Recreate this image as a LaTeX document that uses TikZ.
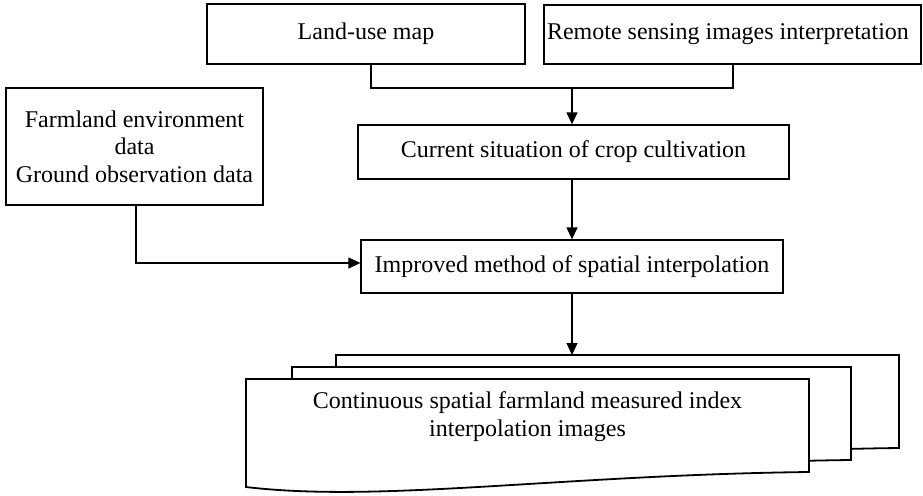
\documentclass[tikz,border=0pt]{standalone}
\usepackage{fontspec}
\setmainfont{Liberation Serif}
\usetikzlibrary{arrows.meta}
\begin{document}
\begin{tikzpicture}[x=1pt,y=-1pt,
  txt/.style={inner sep=0pt,align=center,font=\fontsize{24}{27.6}\selectfont},
  box/.style={txt,draw,line width=1.3pt},
  conn/.style={line width=1.3pt},
  arr/.style={conn,-{Triangle[length=12pt,width=11pt]}},
  doc/.style={draw,line width=1.8pt,fill=white,line join=miter}]
\useasboundingbox (0,0) rectangle (923,495);
\node[box,minimum width=318pt,minimum height=60pt] (land) at (366,34) {Land-use map};
\node[draw,line width=1.3pt,inner ysep=0pt,inner xsep=3pt,minimum height=59pt,font=\fontsize{24}{27.6}\selectfont] (remote) at (732.5,34.5) {\makebox[371pt][l]{Remote sensing images interpretation}};
\node[box,minimum width=257pt,minimum height=117pt] (farm) at (134.5,146.5) {Farmland environment\\data\\Ground observation data};
\node[box,minimum width=431pt,minimum height=54pt] (cur) at (573.5,152) {Current situation of crop cultivation};
\node[box,minimum width=422pt,minimum height=53pt] (imp) at (572,266.5) {Improved method of spatial interpolation};
% documents
\draw[doc] (336,355) -- (899,355) -- (899,448) .. controls (650,451) and (470,479) .. (336,463) -- cycle;
\draw[doc] (292,367) -- (851,367) -- (851,460) .. controls (602,463) and (424,491) .. (292,475) -- cycle;
\draw[doc] (246,379) -- (809,379) -- (809,472) .. controls (560,475) and (380,503) .. (246,487) -- cycle;
\node[txt,anchor=north] (doctext) at (527.5,391.5) {Continuous spatial farmland measured index\\interpolation images};
% connectors
\coordinate (j1) at (371,88);
\coordinate (j2) at (733,88);
\coordinate (jm) at (572,88);
\coordinate (fc) at (136,263);
\coordinate (dtop) at (572,355);
\draw[conn] (land.south -| j1) -- (j1) -- (j2) -- (remote.south -| j2);
\draw[arr] (jm) -- (cur.north -| jm);
\draw[arr] (cur.south -| jm) -- (imp.north -| jm);
\draw[arr] (farm.south -| fc) -- (fc) -- (imp.west |- fc);
\draw[arr] (imp.south -| dtop) -- (dtop);
\end{tikzpicture}
\end{document}
